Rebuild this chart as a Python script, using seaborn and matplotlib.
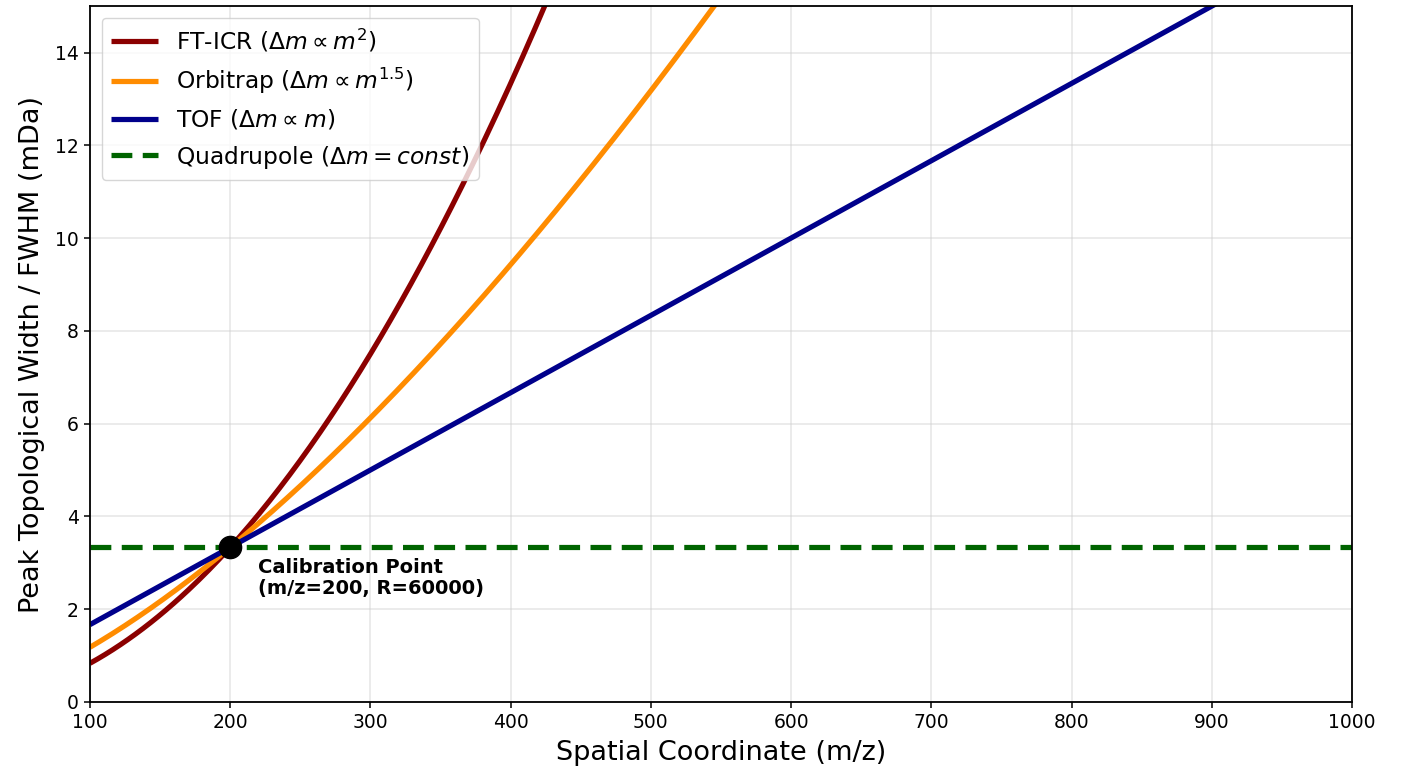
import numpy as np
import pandas as pd
import matplotlib
matplotlib.use("Agg")
import matplotlib.pyplot as plt
import seaborn as sns

# Calibration reference and scaling exponents of each analyser type
cal_mz = 200.0
cal_resolution = 60000.0
analysers = ["FT-ICR ($\\Delta m \\propto m^2$)",
             "Orbitrap ($\\Delta m \\propto m^{1.5}$)",
             "TOF ($\\Delta m \\propto m$)",
             "Quadrupole ($\\Delta m = const$)"]
exponents = [2.0, 1.5, 1.0, 0.0]
colors = ["#8b0000", "#ff8c00", "#00008b", "#006400"]
dashes = [(1, 0), (1, 0), (1, 0), (4, 2)]

mz = np.linspace(100, 1000, 500)
fwhm_cal = cal_mz / cal_resolution * 1000.0  # mDa at the calibration point

frames = []
for name, k in zip(analysers, exponents):
    frames.append(pd.DataFrame({"mz": mz,
                                "fwhm": fwhm_cal * (mz / cal_mz) ** k,
                                "analyser": name}))
df = pd.concat(frames, ignore_index=True)

sns.set_style("ticks")
plt.rcParams["font.family"] = ["DejaVu Sans"]
for key in ["text.color", "axes.labelcolor", "xtick.color", "ytick.color"]:
    plt.rcParams[key] = "black"

fig = plt.figure(figsize=(14.01, 7.68), dpi=100)
ax = fig.add_axes([0.0642, 0.086, 0.9008, 0.906])

lw = 3.75
sns.lineplot(data=df, x="mz", y="fwhm", hue="analyser", style="analyser",
             palette=colors, dashes=dashes, hue_order=analysers,
             style_order=analysers, linewidth=lw, ax=ax)

ax.plot([cal_mz], [fwhm_cal], "o", color="black", markersize=16, zorder=5)
ax.annotate("Calibration Point\n(m/z=200, R=60000)", xy=(cal_mz, fwhm_cal),
            xytext=(20, -8), textcoords="offset points", ha="left", va="top",
            fontsize=14, fontweight="bold", linespacing=1.1)

ax.set_xlim(100, 1000)
ax.set_ylim(0, 15)
ax.set_xticks(np.arange(100, 1001, 100))
ax.set_yticks(np.arange(0, 15, 2))
ax.grid(True, color="#cccccc", alpha=0.5, linewidth=1.1)
ax.tick_params(labelsize=13.5, length=4.5, width=1.1, color="black")
for s in ax.spines.values():
    s.set_color("black")
    s.set_linewidth(1.3)

ax.set_xlabel("Spatial Coordinate (m/z)", fontsize=19.5, labelpad=6)
ax.set_ylabel("Peak Topological Width / FWHM (mDa)", fontsize=19.5, labelpad=7)

leg = ax.legend(loc="upper left", fontsize=16.8, frameon=True, framealpha=0.8)
for line in leg.get_lines():
    line.set_linewidth(lw)

fig.savefig("out.png", dpi=100)
